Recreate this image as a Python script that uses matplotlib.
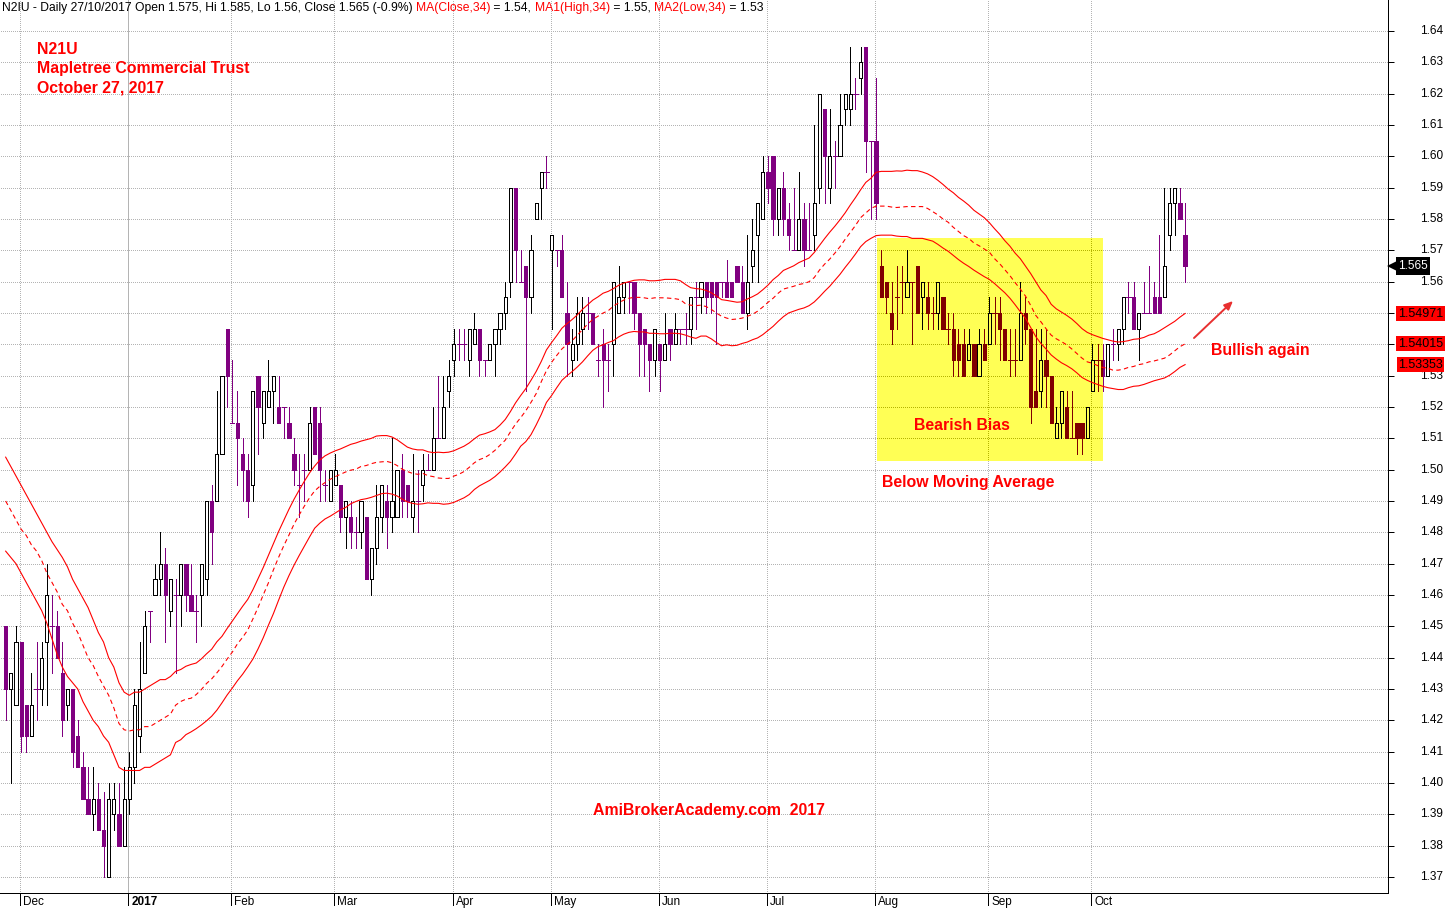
import numpy as np
import matplotlib
matplotlib.use("Agg")
import matplotlib.pyplot as plt
from matplotlib.patches import Rectangle
from matplotlib.collections import PolyCollection, LineCollection

plt.rcParams['font.family'] = ['Liberation Sans', 'DejaVu Sans']

# ---------------- data ----------------
opens = [
    1.45, 1.43, 1.425, 1.445, 1.425, 1.415, 1.43, 1.43, 1.445, 1.45,
    1.45, 1.435, 1.425, 1.43, 1.415, 1.405, 1.395, 1.39, 1.395, 1.385,
    1.37, 1.39, 1.39, 1.38, 1.395, 1.405, 1.415, 1.435, 1.455, 1.46,
    1.465, 1.47, 1.455, 1.46, 1.46, 1.47, 1.46, 1.455, 1.46, 1.465,
    1.49, 1.49, 1.505, 1.545, 1.515, 1.515, 1.505, 1.50, 1.495, 1.53,
    1.515, 1.52, 1.525, 1.52, 1.52, 1.515, 1.505, 1.495, 1.50, 1.50,
    1.52, 1.515, 1.495, 1.49, 1.495, 1.495, 1.485, 1.485, 1.48, 1.48,
    1.485, 1.465, 1.475, 1.485, 1.49, 1.485, 1.485, 1.50, 1.495, 1.485,
    1.49, 1.495, 1.50, 1.50, 1.51, 1.51, 1.525, 1.535, 1.54, 1.54,
    1.535, 1.54, 1.545, 1.535, 1.535, 1.54, 1.545, 1.55, 1.56, 1.59,
    1.56, 1.565, 1.555, 1.58, 1.59, 1.595, 1.57, 1.57, 1.57, 1.55,
    1.535, 1.54, 1.545, 1.55, 1.55, 1.535, 1.54, 1.535, 1.54, 1.55,
    1.555, 1.56, 1.56, 1.55, 1.545, 1.54, 1.535, 1.54, 1.535, 1.545,
    1.54, 1.545, 1.545, 1.545, 1.555, 1.555, 1.56, 1.56, 1.56, 1.56,
    1.56, 1.56, 1.565, 1.56, 1.55, 1.565, 1.575, 1.58, 1.595, 1.60,
    1.58, 1.59, 1.58, 1.57, 1.57, 1.58, 1.57, 1.575, 1.59, 1.615,
    1.59, 1.60, 1.60, 1.615, 1.615, 1.62, 1.625, 1.635, 1.605, 1.605,
    1.565, 1.56, 1.55, 1.555, 1.56, 1.555, 1.56, 1.565, 1.555, 1.555,
    1.55, 1.55, 1.555, 1.545, 1.545, 1.54, 1.54, 1.535, 1.54, 1.53,
    1.54, 1.54, 1.55, 1.55, 1.545, 1.535, 1.535, 1.535, 1.55, 1.545,
    1.525, 1.525, 1.535, 1.53, 1.51, 1.515, 1.52, 1.51, 1.515, 1.515,
    1.51, 1.525, 1.535, 1.535, 1.53, 1.54, 1.54, 1.545, 1.555, 1.555,
    1.545, 1.55, 1.55, 1.555, 1.555, 1.555, 1.575, 1.585, 1.585, 1.575,
]
highs = [
    1.45, 1.435, 1.45, 1.445, 1.425, 1.435, 1.445, 1.445, 1.47, 1.46,
    1.455, 1.445, 1.43, 1.43, 1.42, 1.41, 1.405, 1.405, 1.40, 1.397,
    1.40, 1.40, 1.40, 1.405, 1.41, 1.43, 1.445, 1.455, 1.455, 1.47,
    1.48, 1.475, 1.465, 1.465, 1.47, 1.47, 1.47, 1.46, 1.47, 1.49,
    1.495, 1.525, 1.53, 1.545, 1.535, 1.525, 1.51, 1.505, 1.525, 1.53,
    1.525, 1.535, 1.53, 1.53, 1.52, 1.52, 1.51, 1.505, 1.505, 1.52,
    1.52, 1.52, 1.50, 1.50, 1.505, 1.495, 1.49, 1.49, 1.485, 1.49,
    1.485, 1.475, 1.495, 1.495, 1.495, 1.51, 1.50, 1.505, 1.495, 1.505,
    1.50, 1.505, 1.505, 1.52, 1.53, 1.53, 1.535, 1.545, 1.545, 1.545,
    1.545, 1.55, 1.545, 1.535, 1.54, 1.545, 1.55, 1.56, 1.59, 1.59,
    1.57, 1.565, 1.575, 1.585, 1.595, 1.60, 1.575, 1.57, 1.575, 1.56,
    1.545, 1.555, 1.555, 1.555, 1.55, 1.54, 1.545, 1.54, 1.56, 1.565,
    1.56, 1.56, 1.56, 1.55, 1.545, 1.54, 1.545, 1.54, 1.55, 1.545,
    1.55, 1.545, 1.55, 1.555, 1.56, 1.56, 1.56, 1.56, 1.56, 1.56,
    1.567, 1.56, 1.565, 1.565, 1.575, 1.58, 1.585, 1.60, 1.60, 1.60,
    1.59, 1.595, 1.585, 1.59, 1.595, 1.585, 1.585, 1.61, 1.62, 1.615,
    1.615, 1.605, 1.62, 1.62, 1.635, 1.625, 1.635, 1.635, 1.605, 1.625,
    1.57, 1.56, 1.56, 1.565, 1.565, 1.57, 1.56, 1.565, 1.56, 1.56,
    1.555, 1.56, 1.555, 1.55, 1.55, 1.545, 1.545, 1.545, 1.54, 1.545,
    1.545, 1.555, 1.555, 1.555, 1.545, 1.545, 1.545, 1.56, 1.555, 1.545,
    1.545, 1.545, 1.545, 1.53, 1.52, 1.525, 1.525, 1.525, 1.515, 1.515,
    1.52, 1.54, 1.54, 1.54, 1.54, 1.545, 1.545, 1.555, 1.56, 1.56,
    1.55, 1.56, 1.565, 1.56, 1.575, 1.59, 1.59, 1.59, 1.59, 1.585,
]
lows = [
    1.42, 1.40, 1.425, 1.41, 1.41, 1.415, 1.42, 1.425, 1.425, 1.435,
    1.44, 1.415, 1.42, 1.405, 1.405, 1.395, 1.39, 1.385, 1.385, 1.37,
    1.37, 1.385, 1.38, 1.38, 1.39, 1.40, 1.41, 1.435, 1.445, 1.46,
    1.46, 1.445, 1.45, 1.435, 1.45, 1.455, 1.455, 1.445, 1.45, 1.46,
    1.47, 1.49, 1.505, 1.52, 1.515, 1.495, 1.49, 1.485, 1.49, 1.505,
    1.51, 1.52, 1.515, 1.515, 1.51, 1.51, 1.495, 1.485, 1.49, 1.50,
    1.505, 1.49, 1.49, 1.49, 1.495, 1.48, 1.475, 1.475, 1.475, 1.475,
    1.465, 1.46, 1.47, 1.48, 1.475, 1.48, 1.485, 1.485, 1.485, 1.48,
    1.48, 1.49, 1.50, 1.50, 1.51, 1.51, 1.52, 1.53, 1.535, 1.535,
    1.53, 1.54, 1.53, 1.53, 1.535, 1.53, 1.54, 1.545, 1.555, 1.56,
    1.56, 1.525, 1.55, 1.58, 1.58, 1.59, 1.545, 1.565, 1.555, 1.53,
    1.53, 1.535, 1.54, 1.545, 1.54, 1.53, 1.52, 1.525, 1.53, 1.55,
    1.55, 1.55, 1.545, 1.53, 1.53, 1.525, 1.53, 1.525, 1.535, 1.535,
    1.54, 1.54, 1.54, 1.54, 1.545, 1.55, 1.55, 1.55, 1.54, 1.555,
    1.555, 1.555, 1.56, 1.55, 1.545, 1.56, 1.56, 1.58, 1.585, 1.575,
    1.575, 1.575, 1.57, 1.57, 1.57, 1.565, 1.57, 1.57, 1.585, 1.585,
    1.585, 1.59, 1.60, 1.61, 1.61, 1.615, 1.62, 1.595, 1.58, 1.58,
    1.555, 1.55, 1.54, 1.545, 1.55, 1.555, 1.54, 1.55, 1.545, 1.545,
    1.545, 1.545, 1.545, 1.54, 1.53, 1.53, 1.53, 1.535, 1.53, 1.53,
    1.535, 1.54, 1.54, 1.535, 1.535, 1.53, 1.53, 1.535, 1.54, 1.515,
    1.52, 1.52, 1.52, 1.515, 1.51, 1.51, 1.51, 1.51, 1.505, 1.505,
    1.51, 1.525, 1.525, 1.525, 1.53, 1.535, 1.535, 1.54, 1.55, 1.545,
    1.535, 1.55, 1.55, 1.55, 1.55, 1.555, 1.57, 1.575, 1.58, 1.56,
]
closes = [
    1.43, 1.435, 1.445, 1.415, 1.415, 1.425, 1.43, 1.44, 1.46, 1.45,
    1.44, 1.42, 1.43, 1.41, 1.405, 1.395, 1.39, 1.395, 1.385, 1.38,
    1.395, 1.395, 1.38, 1.395, 1.405, 1.425, 1.43, 1.45, 1.455, 1.465,
    1.47, 1.46, 1.465, 1.46, 1.47, 1.46, 1.455, 1.455, 1.47, 1.49,
    1.48, 1.505, 1.53, 1.53, 1.515, 1.51, 1.50, 1.49, 1.525, 1.52,
    1.525, 1.525, 1.53, 1.515, 1.52, 1.51, 1.50, 1.495, 1.50, 1.515,
    1.505, 1.50, 1.495, 1.50, 1.50, 1.485, 1.49, 1.48, 1.48, 1.49,
    1.465, 1.475, 1.485, 1.495, 1.485, 1.49, 1.50, 1.49, 1.49, 1.49,
    1.49, 1.50, 1.50, 1.51, 1.51, 1.52, 1.53, 1.54, 1.54, 1.54,
    1.545, 1.545, 1.535, 1.535, 1.54, 1.545, 1.55, 1.555, 1.59, 1.57,
    1.56, 1.555, 1.57, 1.585, 1.595, 1.595, 1.575, 1.57, 1.555, 1.54,
    1.54, 1.55, 1.55, 1.55, 1.54, 1.535, 1.535, 1.535, 1.56, 1.555,
    1.56, 1.56, 1.55, 1.54, 1.54, 1.535, 1.545, 1.535, 1.54, 1.54,
    1.545, 1.545, 1.545, 1.555, 1.555, 1.56, 1.555, 1.555, 1.555, 1.56,
    1.555, 1.555, 1.56, 1.55, 1.56, 1.57, 1.585, 1.595, 1.59, 1.58,
    1.59, 1.58, 1.575, 1.57, 1.58, 1.57, 1.57, 1.585, 1.62, 1.60,
    1.60, 1.60, 1.61, 1.62, 1.62, 1.62, 1.63, 1.605, 1.605, 1.585,
    1.555, 1.555, 1.545, 1.555, 1.56, 1.56, 1.56, 1.55, 1.56, 1.55,
    1.55, 1.56, 1.545, 1.545, 1.535, 1.535, 1.53, 1.54, 1.53, 1.54,
    1.535, 1.55, 1.55, 1.545, 1.535, 1.535, 1.535, 1.55, 1.545, 1.52,
    1.52, 1.535, 1.53, 1.515, 1.515, 1.525, 1.51, 1.51, 1.51, 1.51,
    1.52, 1.535, 1.535, 1.53, 1.54, 1.54, 1.545, 1.555, 1.555, 1.545,
    1.55, 1.55, 1.55, 1.55, 1.55, 1.565, 1.585, 1.59, 1.58, 1.565,
]

# 34-bar moving averages: values before a full window exists (bars 0-32)
ma_high_head = [1.504, 1.501, 1.498, 1.495, 1.492, 1.489, 1.486, 1.483, 1.480, 1.477,
                1.4745, 1.472, 1.469, 1.465, 1.462, 1.459, 1.456, 1.452, 1.448, 1.445,
                1.440, 1.437, 1.432, 1.429, 1.428, 1.429, 1.429, 1.430, 1.431, 1.432,
                1.433, 1.433, 1.434]
ma_close_head = [1.490, 1.487, 1.484, 1.481, 1.479, 1.476, 1.474, 1.471, 1.467, 1.464,
                 1.461, 1.457, 1.455, 1.451, 1.448, 1.444, 1.440, 1.4375, 1.434, 1.431,
                 1.428, 1.424, 1.419, 1.417, 1.4166, 1.417, 1.417, 1.418, 1.418, 1.419,
                 1.420, 1.421, 1.422]
ma_low_head = [1.474, 1.472, 1.470, 1.467, 1.464, 1.461, 1.458, 1.455, 1.451, 1.446,
               1.441, 1.437, 1.434, 1.432, 1.430, 1.426, 1.423, 1.420, 1.418, 1.415,
               1.413, 1.409, 1.405, 1.404, 1.404, 1.404, 1.404, 1.405, 1.405, 1.406,
               1.407, 1.408, 1.409]
ma_period = 34

month_labels = ['Dec', '2017', 'Feb', 'Mar', 'Apr', 'May', 'Jun', 'Jul', 'Aug', 'Sep', 'Oct']
month_start_idx = [3, 24, 44, 64, 87, 106, 127, 148, 169, 191, 211]
price_ticks = [round(1.37 + 0.01 * k, 2) for k in range(28)]
hidden_tick_labels = [1.54, 1.55]   # covered by the MA value boxes
last_price_label = 1.565
ma_last_labels = [1.54971, 1.54015, 1.53353]

# ---------------- styling constants ----------------
W, H = 1447, 910
PURPLE = '#800080'
DARKRED = '#800000'
YELLOW = '#FFFF55'
GRID = '#B4B4B4'
GRID_Y = '#B4B400'
RED = '#FF0000'
LW = 0.72  # 1 px

fig = plt.figure(figsize=(W / 100, H / 100), dpi=100)
ax = fig.add_axes([0, (H - 893) / H, 1388 / W, 893 / H])
ax.set_xlim(-1.1, 268.4)
ax.set_ylim(1.3649, 1.6499)
ax.set_facecolor('white')

n = len(closes)
xs = np.arange(n)
o = np.array(opens); h = np.array(highs); l = np.array(lows); c = np.array(closes)


def rolling(arr, head):
    out = np.array(head + [np.nan] * (len(arr) - len(head)), dtype=float)
    for i in range(len(head), len(arr)):
        out[i] = np.mean(arr[i - ma_period + 1:i + 1])
    return out


ma_close = rolling(c, ma_close_head)
ma_high = rolling(h, ma_high_head)
ma_low = rolling(l, ma_low_head)

# yellow highlight box (annotation)
box_x0, box_x1 = 169.2, 213.1
box_y0, box_y1 = 1.5028, 1.5739

# ---- grid ----
month_x = [m - 0.2 for m in month_start_idx]


def draw_grid(color, z, clip=None):
    arts = []
    arts.append(ax.hlines(price_ticks, -2, 270, colors=color, linewidth=LW,
                          linestyles=(0, (1, 2)), zorder=z, antialiased=False))
    for k, mx in enumerate(month_x):
        if month_labels[k] == '2017':
            arts.append(ax.vlines(mx, 1.30, 1.70, colors=color, linewidth=LW, zorder=z,
                                  antialiased=False))
        else:
            arts.append(ax.vlines(mx, 1.30, 1.70, colors=color, linewidth=LW,
                                  linestyles=(0, (1, 2)), zorder=z, antialiased=False))
    if clip is not None:
        for a in arts:
            a.set_clip_path(clip)


draw_grid(GRID, 0.5)

box = Rectangle((box_x0, box_y0), box_x1 - box_x0, box_y1 - box_y0,
                facecolor=YELLOW, edgecolor='none', zorder=1.0)
ax.add_patch(box)
clip_rect = Rectangle((box_x0, box_y0), box_x1 - box_x0, box_y1 - box_y0,
                      transform=ax.transData, facecolor='none', edgecolor='none')
draw_grid(GRID_Y, 1.1, clip=clip_rect)

# ---- candles ----
bw = 0.62


def draw_candles(down_col, up_face, z, clip=None):
    wick_segs, wick_cols = [], []
    bodies, fcs, ecs = [], [], []
    doji_segs = []
    for i in range(n):
        col = 'black' if c[i] > o[i] else down_col
        wick_segs.append([(xs[i], l[i]), (xs[i], h[i])])
        wick_cols.append(col)
        if c[i] > o[i]:
            bodies.append([(xs[i] - bw / 2, o[i]), (xs[i] + bw / 2, o[i]),
                           (xs[i] + bw / 2, c[i]), (xs[i] - bw / 2, c[i])])
            fcs.append(up_face); ecs.append('black')
        elif c[i] < o[i]:
            bodies.append([(xs[i] - bw / 2, c[i]), (xs[i] + bw / 2, c[i]),
                           (xs[i] + bw / 2, o[i]), (xs[i] - bw / 2, o[i])])
            fcs.append(down_col); ecs.append(down_col)
        else:
            doji_segs.append([(xs[i] - bw / 2 - 0.1, o[i]), (xs[i] + bw / 2 + 0.1, o[i])])
    lc = LineCollection(wick_segs, colors=wick_cols, linewidths=LW, zorder=z,
                        antialiaseds=False)
    pc = PolyCollection(bodies, facecolors=fcs, edgecolors=ecs, linewidths=LW,
                        zorder=z + 0.01, antialiaseds=False)
    dc = LineCollection(doji_segs, colors=down_col, linewidths=LW, zorder=z + 0.02,
                        antialiaseds=False)
    for a in (lc, pc, dc):
        ax.add_collection(a)
        if clip is not None:
            a.set_clip_path(clip)


draw_candles(PURPLE, 'white', 2.0)
draw_candles(DARKRED, YELLOW, 2.1, clip=clip_rect)

# ---- moving averages ----
MA_LW = 0.8
ax.plot(xs, ma_high, color=RED, lw=MA_LW, zorder=3)
ax.plot(xs, ma_low, color=RED, lw=MA_LW, zorder=3)
ax.plot(xs, ma_close, color=RED, lw=MA_LW, zorder=3, linestyle=(0, (4, 3)))

# ---- axes decoration ----
for s in ('left', 'top'):
    ax.spines[s].set_visible(False)
for s in ('right', 'bottom'):
    ax.spines[s].set_color('black')
    ax.spines[s].set_linewidth(LW)
ax.set_xticks([])
ax.yaxis.set_ticks_position('right')
ax.set_yticks(price_ticks)
ax.tick_params(axis='y', direction='out', length=4, width=LW, color='black',
               labelright=False, labelleft=False)

ytrans = ax.get_yaxis_transform()
for p in price_ticks:
    if p in hidden_tick_labels:
        continue
    ax.text(1443 / 1388, p, f'{p:.2f}', transform=ytrans, ha='right', va='center',
            fontsize=8.5, color='black', clip_on=False)

xtrans = ax.get_xaxis_transform()
for k, mx in enumerate(month_x):
    ax.plot([mx, mx], [0, -12 / 893], transform=xtrans, color='black', lw=LW,
            clip_on=False, antialiased=False)
    ax.annotate(month_labels[k], xy=(mx, 0), xycoords=xtrans,
                xytext=(3, -9), textcoords='offset pixels', ha='left', va='center',
                fontsize=8.5, fontweight='bold' if month_labels[k] == '2017' else 'normal',
                annotation_clip=False)

# last price tag
ax.text(1413 / 1388, last_price_label, f'{last_price_label:.3f}', transform=ytrans,
        ha='center', va='center', fontsize=8.5, color='white', clip_on=False, zorder=6,
        bbox=dict(boxstyle='square,pad=0.22', facecolor='black', edgecolor='none'))
ax.plot([1393 / 1388], [last_price_label], marker='<', markersize=9, color='black',
        transform=ytrans, clip_on=False, zorder=5, markeredgewidth=0)

for v in ma_last_labels:
    ax.text(1420.5 / 1388, v, f'{v:.5f}', transform=ytrans, ha='center', va='center',
            fontsize=9, color='black', clip_on=False, zorder=6,
            bbox=dict(boxstyle='square,pad=0.12', facecolor='red', edgecolor='none'))

# ---- texts ----
def fx(x):
    return x / W


def fy(y):
    return 1 - y / H


HFS = 8.72
hdr = [("N2IU - Daily 27/10/2017 Open 1.575, Hi 1.585, Lo 1.56, Close 1.565 (-0.9%) ", 'black'),
       ("MA(Close,34)", 'red'), (" = 1.54, ", 'black'), ("MA1(High,34)", 'red'),
       (" = 1.55, ", 'black'), ("MA2(Low,34)", 'red'), (" = 1.53", 'black')]
prev = fig.text(fx(2), fy(8), hdr[0][0], color=hdr[0][1], fontsize=HFS, ha='left', va='center')
for s, col in hdr[1:]:
    prev = ax.annotate(s, xy=(1, 0.5), xycoords=prev, ha='left', va='center',
                       fontsize=HFS, color=col, annotation_clip=False)

tkw = dict(color='#FF0000', fontsize=11.4, fontweight='bold')
fig.text(fx(37), fy(50), 'N21U', ha='left', va='center', **tkw)
fig.text(fx(37), fy(69), 'Mapletree Commercial Trust', ha='left', va='center', **tkw)
fig.text(fx(37), fy(88), 'October 27, 2017', ha='left', va='center', **tkw)
fig.text(fx(962), fy(425), 'Bearish Bias', ha='center', va='center', zorder=5, **tkw)
fig.text(fx(968), fy(482), 'Below Moving Average', ha='center', va='center', **tkw)
fig.text(fx(1260), fy(351), 'Bullish again', ha='center', va='center', **tkw)
fig.text(fx(709), fy(810), 'AmiBrokerAcademy.com  2017', ha='center', va='center', **tkw)

# arrow
fig.patches.append(matplotlib.patches.FancyArrowPatch(
    (fx(1194), fy(338)), (fx(1233), fy(301)), transform=fig.transFigure,
    arrowstyle='-|>,head_length=5,head_width=2.2', color='#E83030', lw=1.4,
    shrinkA=0, shrinkB=0))

fig.savefig('out.png', dpi=100)
